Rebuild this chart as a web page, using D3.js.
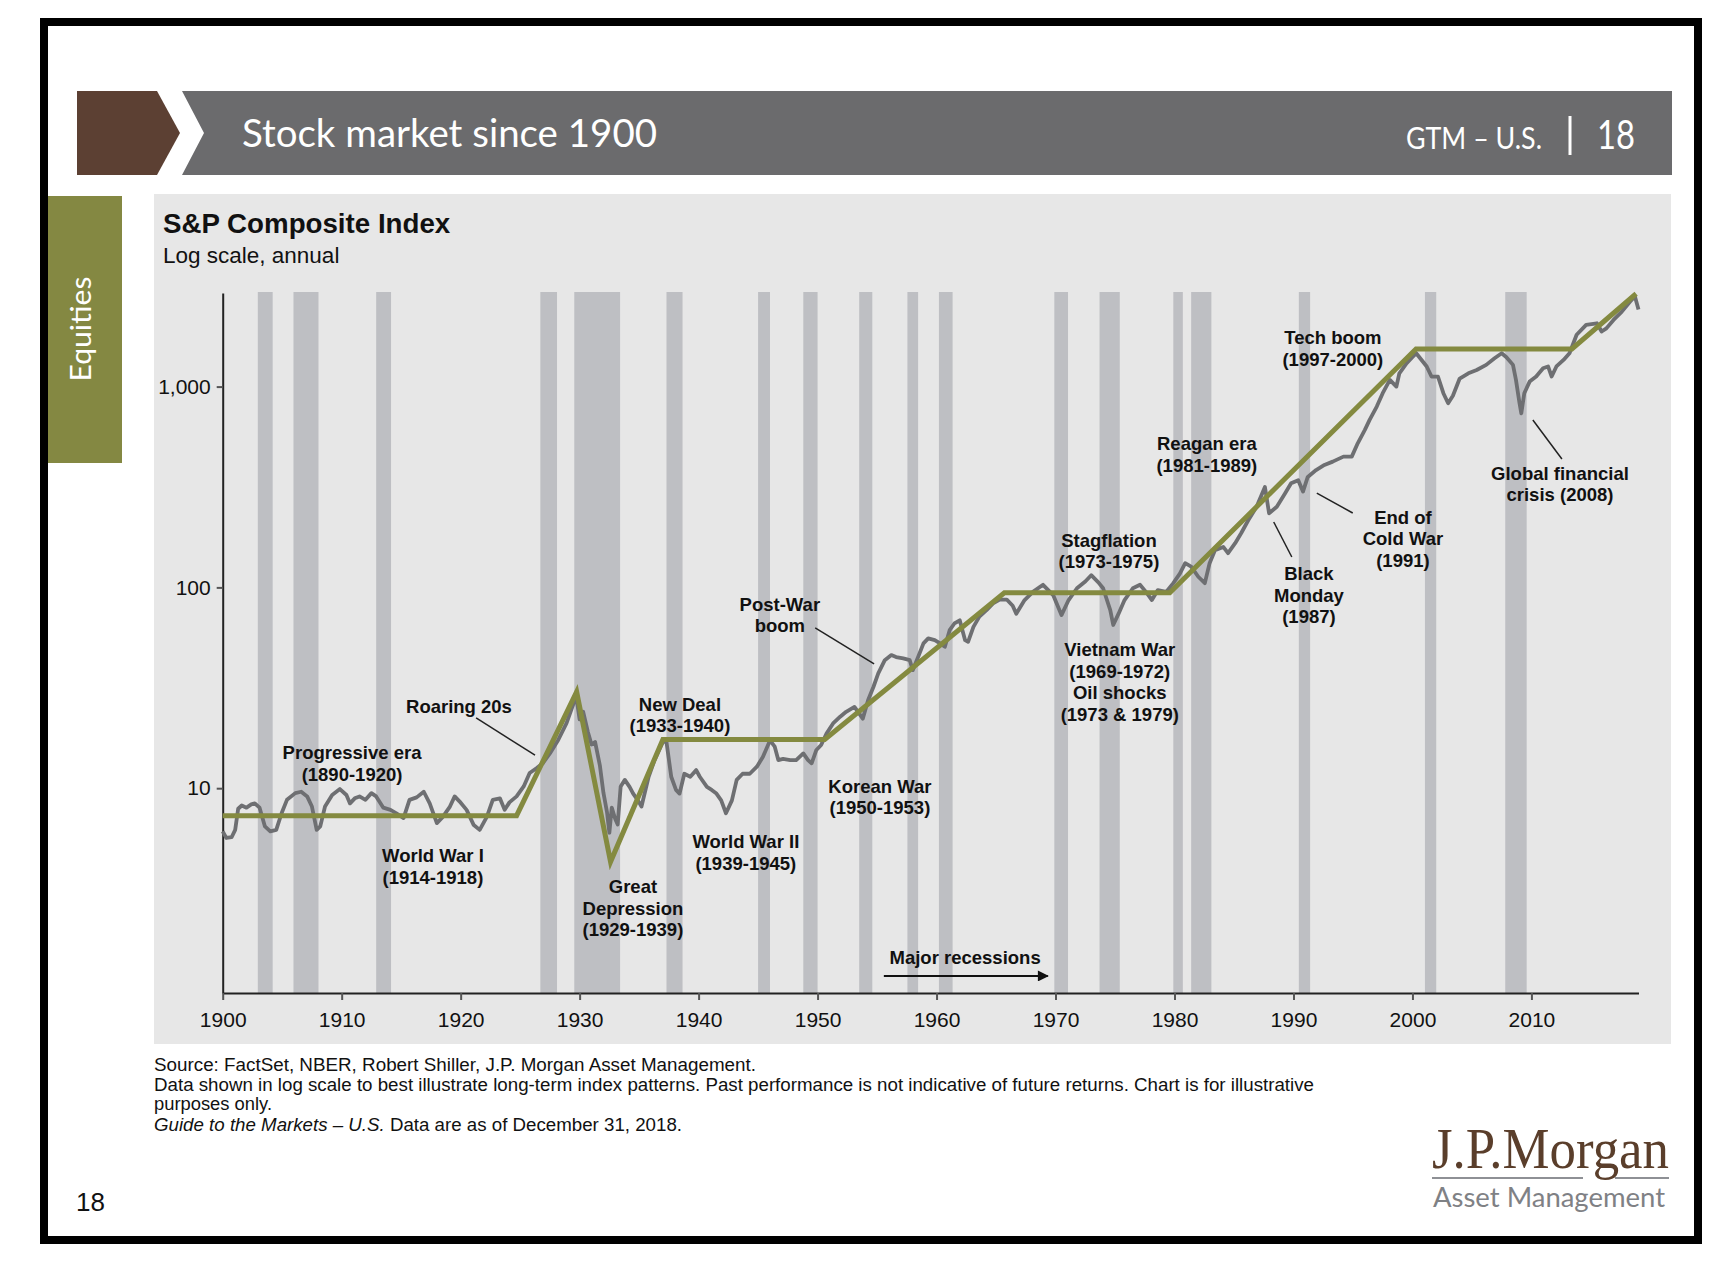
<!DOCTYPE html>
<html><head><meta charset="utf-8">
<script src="https://cdn.jsdelivr.net/npm/d3@7"></script>
<style>body{margin:0;background:#fff}</style>
</head><body>
<svg id="c" width="1736" height="1263"></svg>
<script>
// ---------------- DATA ----------------
const seriesYears = [
1900.0,1900.3,1900.75,1901.05,1901.3,1901.6,1902.0,1902.4,1902.7,1903.1,1903.55,1904.0,1904.5,1904.95,1905.4,1906.1,1906.6,1907.1,1907.5,1907.9,
1908.2,1908.6,1909.2,1909.85,1910.4,1910.7,1911.1,1911.5,1912.0,1912.5,1912.9,1913.5,1914.1,1914.6,1915.2,1915.7,1916.3,1916.9,1917.4,1918.0,
1918.5,1919.1,1919.5,1919.9,1920.5,1921.1,1921.6,1922.2,1922.7,1923.3,1923.7,1924.1,1924.7,1925.3,1925.8,1926.4,1926.9,1927.5,1928.2,1928.9,
1929.5,1929.72,1930.0,1930.3,1930.7,1931.0,1931.3,1931.7,1932.0,1932.3,1932.5,1932.7,1933.0,1933.2,
1933.45,1933.8,1934.2,1934.5,1934.9,1935.2,1935.8,1936.3,1937.0,1937.3,1937.7,1938.1,1938.4,1938.8,1939.3,1939.8,1940.1,1940.7,1941.1,1941.5,
1941.9,1942.3,1942.8,1943.2,1943.7,1944.3,1944.9,1945.4,1946.0,1946.4,1946.7,1947.1,1947.7,1948.2,1948.8,1949.2,1949.5,1949.9,1950.3,1950.75,
1951.3,1951.9,1952.4,1953.1,1953.8,1954.25,1954.7,1955.1,1955.65,1956.2,1956.6,1957.2,1957.75,1958.0,1958.45,1958.9,1959.3,1959.85,1960.3,1960.7,
1961.1,1961.5,1961.95,1962.4,1962.65,1963.1,1963.6,1964.2,1964.75,1965.3,1965.9,
1966.4,1966.7,1967.4,1968.1,1968.95,1969.8,1970.5,1971.1,1971.8,1972.5,1973.0,1973.6,1974.0,1974.6,1974.85,1975.3,1975.8,1976.5,1977.1,1977.6,
1978.1,1978.6,1979.3,1979.9,1980.45,1980.9,1981.4,1982.0,1982.55,1982.95,1983.4,1984.1,1984.5,1985.1,1985.6,1986.2,1986.9,1987.6,1987.95,1988.6,
1989.3,1989.8,1990.4,1990.8,1991.2,1991.9,1992.6,1993.3,1994.2,1994.9,1995.4,1996.0,1996.4,1997.0,1997.5,1998.1,1998.65,1998.9,1999.5,2000.05,2000.3,
2000.75,2001.2,2001.6,2002.15,2002.6,2003.0,2003.4,2003.97,2004.7,2005.4,2006.2,2006.9,2007.5,2007.9,2008.45,2008.7,2009.0,2009.15,2009.4,2009.85,
2010.4,2010.98,2011.4,2011.7,2012.1,2012.7,2013.2,2013.8,2014.6,2015.5,2015.9,2016.3,2016.9,2017.6,2018.3,2018.7,2019.0];
const seriesValues = [
6.1,5.65,5.7,6.2,7.9,8.2,8.0,8.3,8.4,8.0,6.45,6.1,6.2,7.5,8.75,9.45,9.6,9.1,8.1,6.2,
6.45,8.1,9.25,9.9,9.25,8.4,8.9,9.1,8.75,9.45,9.1,8.0,7.8,7.5,7.1,8.75,9.0,9.6,8.4,6.7,
7.2,8.1,9.1,8.6,7.8,6.55,6.2,7.2,8.75,8.9,7.8,8.5,9.1,10.2,11.9,12.6,13.3,14.9,17.4,21.1,
26.5,28.5,22,24,19,16.5,17,13,9.5,7.6,6.0,8.0,7.0,6.6,
10.2,11.0,10.15,9.4,8.7,8.1,11.4,13.8,17.0,17.0,11.4,9.8,9.4,11.8,11.4,12.3,11.4,10.15,9.8,9.4,
8.7,7.5,8.7,11.0,11.8,11.8,12.8,14.3,17.3,16.1,13.8,14.0,13.8,13.8,14.9,13.8,13.3,15.5,16.4,18.7,
21,22.7,24,25.4,22.2,27.5,32,37.3,43.4,46,45,44.3,43.4,38.7,45,52.6,55.7,54.6,52.6,50.6,
61.2,66.1,68.6,54.6,53.6,63.6,71.5,77.1,83.2,87,87,
81,74,86.5,95,103,91.6,72.8,86.5,99,107,115,106,99,77,65,74,86.5,99,103,95,
86.5,97,95,105,117,132,127,113,105,132,153,159,148,166,186,216,252,316,234,252,
294,330,342,300,355,384,407,423,448,448,522,609,683,795,927,1080,1000,1165,1306,1412,1470,
1360,1260,1122,1120,927,826,900,1097,1164,1210,1283,1384,1465,1400,1283,1080,826,736,927,1059,
1122,1234,1260,1122,1260,1358,1465,1811,2030,2067,1880,1950,2148,2364,2653,2810,2420];

const trendYears  = [1900, 1924.7, 1929.75, 1932.6, 1937.0, 1950.6, 1965.7, 1979.6, 2000.3, 2013.4, 2018.8];
const trendValues = [7.3, 7.3, 30.2, 4.3, 17.5, 17.5, 94, 94, 1540, 1540, 2900];

const recessionStarts = [1902.95,1905.95,1912.9,1926.7,1929.55,1937.3,1945.0,1948.8,1953.5,1957.55,1960.2,1969.9,1973.7,1979.9,1981.4,1990.45,2001.05,2007.8];
const recessionEnds   = [1904.2, 1908.05,1914.15,1928.1,1933.4, 1938.65,1946.0,1950.0,1954.6,1958.45, 1961.35,1971.05,1975.4,1980.7,1983.1,1991.4, 2002.0, 2009.6];

const yTickValues = [10, 100, 1000];
const yTickLabels = ["10", "100", "1,000"];
const xTickValues = [1900,1910,1920,1930,1940,1950,1960,1970,1980,1990,2000,2010];

const annotationTexts = [
  ["Progressive era","(1890-1920)"],
  ["Roaring 20s"],
  ["World War I","(1914-1918)"],
  ["Great","Depression","(1929-1939)"],
  ["New Deal","(1933-1940)"],
  ["Post-War","boom"],
  ["Korean War","(1950-1953)"],
  ["World War II","(1939-1945)"],
  ["Stagflation","(1973-1975)"],
  ["Vietnam War","(1969-1972)","Oil shocks","(1973 & 1979)"],
  ["Reagan era","(1981-1989)"],
  ["Tech boom","(1997-2000)"],
  ["Black","Monday","(1987)"],
  ["End of","Cold War","(1991)"],
  ["Global financial","crisis (2008)"],
  ["Major recessions"]
];
const annotationYears  = [1910.87,1919.86,1917.67,1934.48,1938.43,1946.83,1955.24,1943.97,1974.49,1975.4,1982.72,1993.31,1991.3,1999.2,2012.4,1962.4];
const annotationValues = [15.0,   25.6,   4.60,   3.22,   26.2,   82.6,   10.25,  5.40,   172,    48.8,  518,    1746,   116.6,  224,    371,    1.427];

const leaderYears  = [[1921.3,1926.25],[1949.8,1954.75],[1988.34,1989.86],[1991.96,1994.98],[2010.12,2012.56]];
const leaderValues = [[22.4,14.6],[62.8,41.6],[211.7,141.7],[295,234.7],[682,436]];
const arrowYears = [1955.57, 1969.35];
const arrowValue = 1.161;

const footnotes = [
  "Source: FactSet, NBER, Robert Shiller, J.P. Morgan Asset Management.",
  "Data shown in log scale to best illustrate long-term index patterns. Past performance is not indicative of future returns. Chart is for illustrative",
  "purposes only."
];
const footnoteWidths = [602, 1160, 118];

// ---------------- DRAW ----------------
const svg = d3.select("#c");
const SANS = "'Liberation Sans', Arial, sans-serif";
const HUM = "Lato, 'Open Sans', sans-serif";

// page frame
svg.append("rect").attr("x",44).attr("y",22).attr("width",1654).attr("height",1218)
  .attr("fill","#fff").attr("stroke","#000").attr("stroke-width",8);

// header chevron + bar
svg.append("polygon").attr("points","77,91 157,91 180,133 157,175 77,175").attr("fill","#5c4033");
svg.append("polygon").attr("points","182,91 1672,91 1672,175 182,175 204,133").attr("fill","#6b6b6d");
svg.append("text").attr("x",242).attr("y",147).attr("fill","#fff")
  .attr("font-family",HUM).attr("font-size",39).attr("textLength",415).attr("lengthAdjust","spacingAndGlyphs")
  .text("Stock market since 1900");
svg.append("text").attr("x",1406).attr("y",149).attr("fill","#fff")
  .attr("font-family",HUM).attr("font-size",30).attr("textLength",136).attr("lengthAdjust","spacingAndGlyphs")
  .text("GTM – U.S.");
svg.append("rect").attr("x",1568.5).attr("y",116).attr("width",3).attr("height",39).attr("fill","#fff");
svg.append("text").attr("x",1597).attr("y",149).attr("fill","#fff")
  .attr("font-family",HUM).attr("font-size",40).attr("textLength",38).attr("lengthAdjust","spacingAndGlyphs")
  .text("18");

// equities tab
svg.append("rect").attr("x",48).attr("y",196).attr("width",74).attr("height",267).attr("fill","#848842");
svg.append("text").attr("transform","translate(91,329) rotate(-90)").attr("text-anchor","middle")
  .attr("fill","#fff").attr("font-family",HUM).attr("font-size",29).attr("textLength",105).attr("lengthAdjust","spacingAndGlyphs")
  .text("Equities");

// panel
svg.append("rect").attr("x",154).attr("y",194).attr("width",1517).attr("height",850).attr("fill","#e7e7e7");
svg.append("text").attr("x",163).attr("y",233).attr("font-family",SANS).attr("font-weight","bold")
  .attr("font-size",27.7).attr("fill","#111").text("S&P Composite Index");
svg.append("text").attr("x",163).attr("y",263).attr("font-family",SANS)
  .attr("font-size",22.5).attr("fill","#111").text("Log scale, annual");

// scales
const x = d3.scaleLinear().domain([1900, 2019]).range([222.7, 1638.5]);
const y = d3.scaleLog().domain([0.955, 2925]).range([993, 293]);

// recession bands
const bands = recessionStarts.map((s,i)=>({s, e: recessionEnds[i]}));
svg.append("g").selectAll("rect").data(bands).join("rect")
  .attr("x", d=>x(d.s)).attr("width", d=>x(d.e)-x(d.s))
  .attr("y", y.range()[1]-1).attr("height", y.range()[0]-y.range()[1]+1)
  .attr("fill","#bebfc3");

// axes
const yAxis = d3.axisLeft(y).tickValues(yTickValues)
  .tickFormat((d,i)=>yTickLabels[i]).tickSize(6).tickSizeOuter(0).tickPadding(6);
const gy = svg.append("g").attr("transform",`translate(${x(1900)},0)`).call(yAxis);
const xAxis = d3.axisBottom(x).tickValues(xTickValues).tickFormat(d3.format("d"))
  .tickSize(7).tickSizeOuter(0).tickPadding(12);
const gx = svg.append("g").attr("transform",`translate(0,${y.range()[0]})`).call(xAxis);
[gx, gy].forEach(g=>{
  g.select(".domain").attr("stroke","#222").attr("stroke-width",2);
  g.selectAll(".tick line").attr("stroke","#555").attr("stroke-width",2);
  g.selectAll(".tick text").attr("font-family",SANS).attr("font-size",21).attr("fill","#111");
});

// series
const series = seriesYears.map((yr,i)=>({yr, v: seriesValues[i]}));
const lineGen = d3.line().x(d=>x(d.yr)).y(d=>y(d.v)).curve(d3.curveLinear);
svg.append("path").datum(series).attr("d",lineGen)
  .attr("fill","none").attr("stroke","#6e6f72").attr("stroke-width",3.8).attr("stroke-linejoin","round");

const trend = trendYears.map((yr,i)=>({yr, v: trendValues[i]}));
svg.append("path").datum(trend).attr("d",lineGen)
  .attr("fill","none").attr("stroke","#848a40").attr("stroke-width",5).attr("stroke-linejoin","miter");

// annotations
const ann = annotationTexts.map((lines,i)=>({lines, yr: annotationYears[i], v: annotationValues[i]}));
const ag = svg.append("g").attr("font-family",SANS).attr("font-weight","bold").attr("font-size",18.5)
  .attr("fill","#111").attr("text-anchor","middle");
ann.forEach(a=>{
  const t = ag.append("text").attr("x",x(a.yr)).attr("y",y(a.v));
  a.lines.forEach((l,j)=>{
    t.append("tspan").attr("x",x(a.yr)).attr("dy", j===0 ? "0.35em" : 21.5).text(l);
  });
});

// leader lines
const leaders = leaderYears.map((yy,i)=>({x1:yy[0],x2:yy[1],v1:leaderValues[i][0],v2:leaderValues[i][1]}));
svg.append("g").selectAll("line").data(leaders).join("line")
  .attr("x1",d=>x(d.x1)).attr("x2",d=>x(d.x2)).attr("y1",d=>y(d.v1)).attr("y2",d=>y(d.v2))
  .attr("stroke","#222").attr("stroke-width",1.5);

// major recessions arrow
svg.append("defs").append("marker").attr("id","ah").attr("viewBox","0 0 10 10")
  .attr("refX",9).attr("refY",5).attr("markerWidth",14).attr("markerHeight",11).attr("orient","auto")
  .attr("markerUnits","userSpaceOnUse")
  .append("path").attr("d","M0,0 L10,5 L0,10 z").attr("fill","#111");
svg.append("line").attr("x1",x(arrowYears[0])).attr("x2",x(arrowYears[1]))
  .attr("y1",y(arrowValue)).attr("y2",y(arrowValue))
  .attr("stroke","#111").attr("stroke-width",2).attr("marker-end","url(#ah)");

// footnotes
const fg = svg.append("g").attr("font-family",SANS).attr("font-size",17.5).attr("fill","#111");
footnotes.forEach((f,i)=>{
  fg.append("text").attr("x",154).attr("y",1071 + i*19.5)
    .attr("textLength",footnoteWidths[i]).attr("lengthAdjust","spacingAndGlyphs").text(f);
});
const last = fg.append("text").attr("x",154).attr("y",1131)
  .attr("textLength",528).attr("lengthAdjust","spacingAndGlyphs");
last.append("tspan").attr("font-style","italic").text("Guide to the Markets – U.S.");
last.append("tspan").text(" Data are as of December 31, 2018.");

// page number
svg.append("text").attr("x",76).attr("y",1211).attr("font-family",SANS).attr("font-size",26)
  .attr("fill","#111").text("18");

// logo
svg.append("text").attr("x",1432).attr("y",1168).attr("font-family","'Liberation Serif','DejaVu Serif',serif")
  .attr("font-size",58).attr("fill","#5a3e2b").attr("textLength",237).attr("lengthAdjust","spacingAndGlyphs")
  .text("J.P.Morgan");
svg.append("line").attr("x1",1432).attr("x2",1583).attr("y1",1178).attr("y2",1178).attr("stroke","#8e9095").attr("stroke-width",2);
svg.append("line").attr("x1",1615).attr("x2",1669).attr("y1",1178).attr("y2",1178).attr("stroke","#8e9095").attr("stroke-width",2);
svg.append("text").attr("x",1433).attr("y",1207).attr("font-family",HUM)
  .attr("font-size",27).attr("fill","#7f8185").attr("textLength",232).attr("lengthAdjust","spacingAndGlyphs")
  .text("Asset Management");
</script>
</body></html>
